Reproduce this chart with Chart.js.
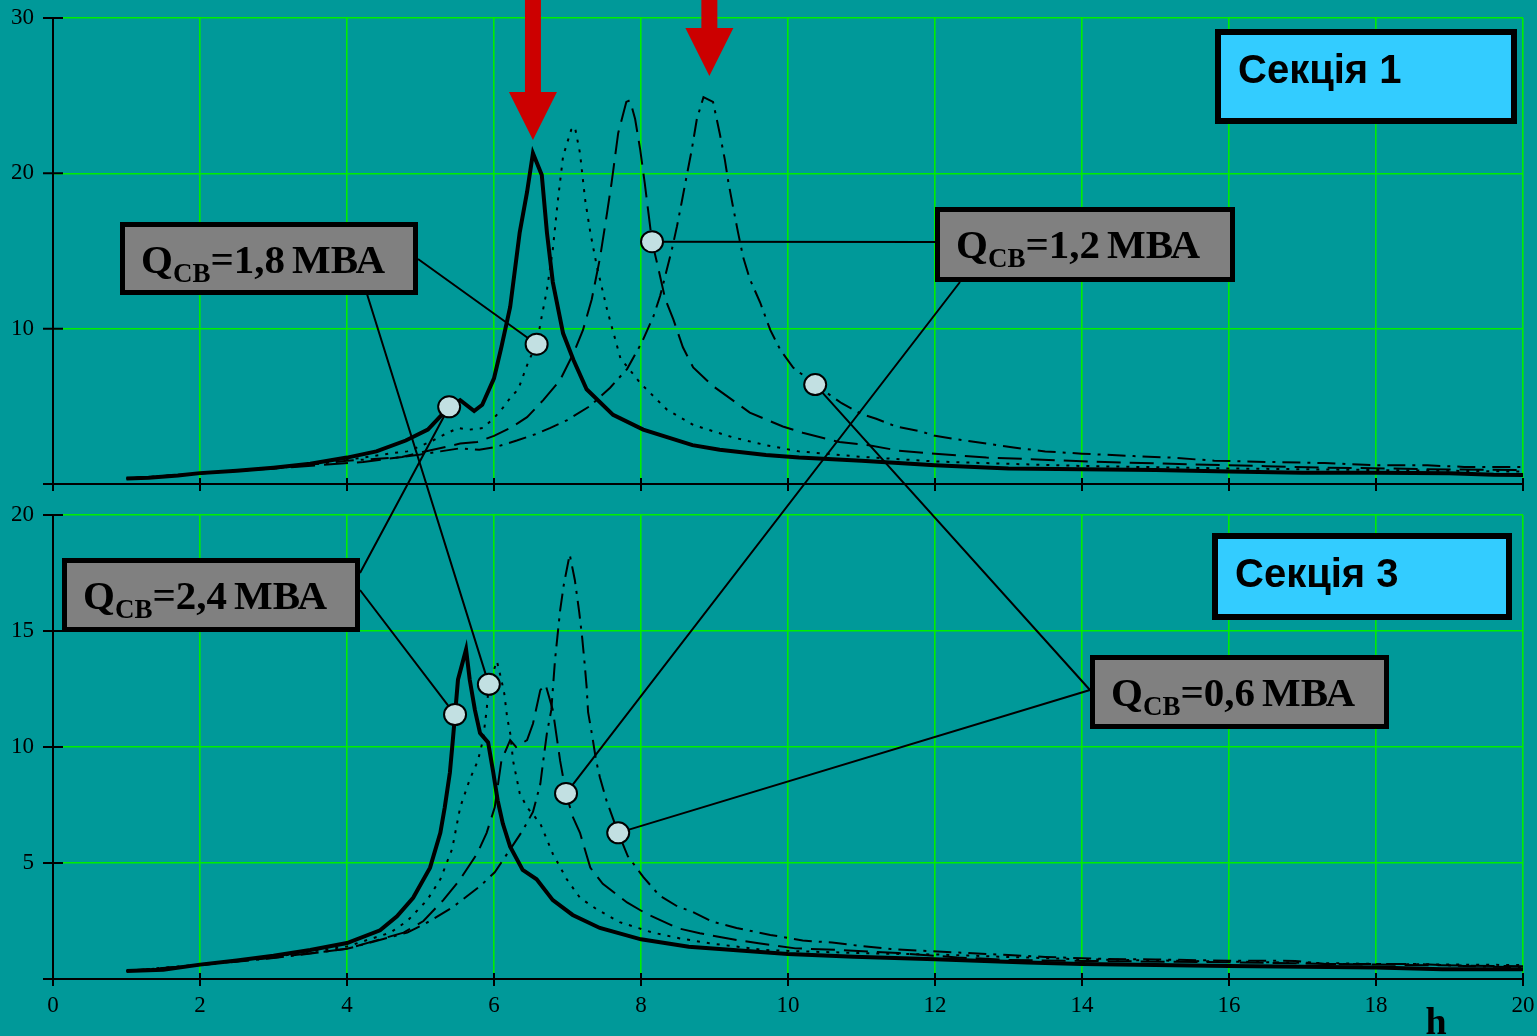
<!DOCTYPE html>
<html>
<head>
<meta charset="utf-8">
<script src="https://cdn.jsdelivr.net/npm/chart.js@4.4.1/dist/chart.umd.min.js"></script>
<style>
  body { margin: 0; background: #009999; width: 1537px; height: 1036px; overflow: hidden; position: relative; }
  canvas { position: absolute; left: 0; }
  #chart_top { top: 0; }
  #chart_bottom { top: 500px; }
  #overlay { top: 0; pointer-events: none; }
</style>
</head>
<body>
<canvas id="chart_top" width="1537" height="500"></canvas>
<canvas id="chart_bottom" width="1537" height="536"></canvas>
<canvas id="overlay" width="1537" height="1036"></canvas>
<script>
// harmonic number h vs. impedance, two sections, four capacitor ratings
const seriesNames = ["2,4", "1,8", "1,2", "0,6"];

// Секція 1 — [h, value]
const top24 = [[1,0.35],[1.3,0.4],[1.7,0.55],[2,0.7],[2.5,0.85],[3,1.05],[3.5,1.3],[4,1.7],[4.4,2.1],[4.8,2.8],[5.1,3.5],[5.38,4.9],[5.54,5.4],[5.73,4.7],[5.84,5.1],[6,6.8],[6.1,8.8],[6.22,11.4],[6.35,16.2],[6.45,18.8],[6.53,21.3],[6.65,19.9],[6.72,16.2],[6.8,13],[6.94,9.7],[7.08,8],[7.26,6.1],[7.62,4.45],[8.03,3.5],[8.7,2.5],[9.07,2.2],[9.7,1.87],[10.15,1.7],[11,1.5],[12,1.2],[13,1],[14,0.95],[15,0.9],[16,0.8],[17,0.72],[18,0.72],[19,0.7],[19.6,0.6],[20,0.58]];
const top18 = [[1,0.35],[2,0.68],[3,1],[3.5,1.25],[4,1.55],[4.63,2],[4.82,2.1],[5.03,2.5],[5.17,2.8],[5.33,3.2],[5.51,3.6],[5.67,3.5],[5.85,3.6],[6.01,4.3],[6.12,4.9],[6.23,5.6],[6.33,6.1],[6.47,7.9],[6.58,9],[6.65,10.8],[6.72,12.5],[6.8,15.1],[6.87,18.3],[6.94,21.1],[7.05,22.8],[7.1,23],[7.17,21.3],[7.24,18.3],[7.31,16.2],[7.4,14],[7.54,11.2],[7.72,8.1],[7.99,6.5],[8.35,4.8],[8.71,3.8],[9.25,3],[9.7,2.5],[10.15,2.1],[11,1.75],[12,1.45],[13,1.3],[14,1.16],[15,1.08],[16,1],[17,0.95],[18,0.9],[19,0.85],[20,0.8]];
const top12 = [[1,0.35],[2,0.68],[3,1],[4.22,1.42],[4.75,1.74],[5.03,2.06],[5.54,2.6],[5.77,2.7],[6,3.1],[6.22,3.6],[6.45,4.3],[6.67,5.4],[6.9,6.7],[7.08,8.4],[7.21,9.9],[7.33,11.9],[7.44,14.5],[7.53,17.2],[7.6,19.4],[7.69,22.6],[7.8,24.6],[7.85,24.7],[7.92,23.5],[7.99,21.5],[8.05,19.4],[8.1,17.5],[8.15,15.6],[8.23,14],[8.33,11.9],[8.44,10.6],[8.57,8.8],[8.71,7.5],[8.98,6.3],[9.48,4.6],[9.93,3.7],[10.2,3.3],[10.7,2.7],[11.1,2.5],[11.5,2.15],[12,1.95],[12.7,1.7],[13.3,1.6],[14,1.46],[15,1.33],[15.7,1.24],[16.5,1.15],[17.3,1.05],[18.2,1],[19,0.93],[20,0.9]];
const top06 = [[1,0.35],[2,0.68],[3,1],[4,1.5],[4.68,1.7],[5,1.9],[5.27,2.1],[5.54,2.3],[5.8,2.2],[6.04,2.4],[6.31,2.8],[6.56,3.2],[6.76,3.6],[6.99,4.1],[7.3,5],[7.58,6.2],[7.81,7.4],[8.01,9.1],[8.17,10.8],[8.26,12.1],[8.33,13.4],[8.42,15.1],[8.49,16.6],[8.56,18.3],[8.62,19.8],[8.69,21.5],[8.76,23.5],[8.85,24.9],[8.98,24.6],[9.07,22.6],[9.14,20.9],[9.19,19.4],[9.25,17.9],[9.32,16.2],[9.39,14.6],[9.48,13.2],[9.62,11.7],[9.76,9.9],[9.9,8.6],[10.07,7.5],[10.37,6.4],[10.73,5.2],[11,4.5],[11.2,4.2],[11.47,3.7],[11.8,3.4],[12,3.1],[12.27,2.9],[12.7,2.6],[13.07,2.35],[13.5,2.1],[14,1.95],[14.7,1.8],[15.2,1.7],[15.8,1.5],[16.5,1.42],[17.3,1.35],[18,1.2],[18.7,1.2],[19.2,1.1],[20,1.1]];

// Секція 3 — [h, value]
const bot24 = [[1,0.35],[1.5,0.4],[2,0.62],[2.5,0.8],[3,1],[3.5,1.25],[4,1.55],[4.45,2.1],[4.68,2.7],[4.9,3.5],[5.13,4.8],[5.27,6.3],[5.33,7.4],[5.4,8.9],[5.44,10.3],[5.47,11.4],[5.51,12.9],[5.62,14.2],[5.67,12.9],[5.74,11.6],[5.81,10.6],[5.92,10.2],[5.99,8.9],[6.05,7.7],[6.12,6.7],[6.22,5.7],[6.39,4.7],[6.58,4.3],[6.8,3.4],[7.07,2.76],[7.44,2.2],[8,1.71],[8.65,1.39],[10,1.08],[10.9,0.96],[12,0.85],[13.25,0.71],[14,0.65],[16,0.56],[18,0.5],[18.9,0.42],[20,0.42]];
const bot18 = [[1,0.35],[2,0.62],[3,0.95],[4,1.4],[4.59,2],[4.82,2.5],[5.09,3.4],[5.27,4.3],[5.43,5.6],[5.54,7.4],[5.67,8.6],[5.78,9.4],[5.85,10.3],[5.9,11.6],[5.93,12.7],[6.04,13.7],[6.1,12.9],[6.14,12.3],[6.18,11.25],[6.22,10.6],[6.26,9.4],[6.35,8],[6.45,7.4],[6.63,6.7],[6.8,5.4],[6.99,4.3],[7.17,3.5],[7.4,3],[7.71,2.45],[8.16,2],[8.53,1.75],[8.93,1.54],[9.68,1.25],[10.3,1.18],[11.2,1.1],[12.1,1.05],[13,0.95],[14,0.85],[16,0.75],[18,0.65],[20,0.6]];
const bot12 = [[1,0.35],[2,0.6],[3,0.92],[4,1.3],[4.77,2],[5.04,2.5],[5.31,3.4],[5.54,4.3],[5.77,5.4],[5.9,6.3],[6.01,7.4],[6.1,9.4],[6.22,10.3],[6.3,10],[6.45,10.3],[6.53,11],[6.63,12.45],[6.7,12.7],[6.8,11.6],[6.9,9.4],[6.98,8],[7.07,7],[7.17,6.3],[7.31,4.8],[7.48,4.1],[7.81,3.3],[8.08,2.8],[8.5,2.19],[8.8,1.97],[9.3,1.68],[9.6,1.54],[10.1,1.32],[10.7,1.25],[11.5,1.12],[12.3,0.93],[13,0.82],[14,0.78],[16,0.72],[18,0.62],[20,0.55]];
const bot06 = [[1,0.35],[2,0.6],[3,0.9],[4,1.3],[4.82,2],[5.13,2.5],[5.44,3.1],[5.81,4],[6.01,4.6],[6.18,5.4],[6.39,6.4],[6.53,7.2],[6.63,8.4],[6.67,9.4],[6.72,10.6],[6.78,11.6],[6.83,13.75],[6.9,15.9],[6.95,17],[7.03,18.3],[7.1,17.2],[7.16,15.8],[7.2,14.7],[7.23,13.7],[7.26,12.6],[7.28,11.5],[7.33,10.6],[7.39,9.4],[7.44,8.7],[7.53,7.7],[7.69,6.3],[7.82,5.3],[8.03,4.4],[8.25,3.6],[8.5,3.12],[8.7,2.9],[8.97,2.47],[9.3,2.2],[9.76,1.9],[10.2,1.66],[10.6,1.57],[11,1.42],[11.4,1.29],[11.8,1.22],[12.4,1.13],[13,1.03],[13.5,0.95],[14.2,0.87],[15,0.84],[16,0.79],[16.9,0.78],[17.3,0.65],[18.5,0.65],[19.2,0.56],[20,0.5]];

// callout points on the curves, in series order
const topMarks = [[5.39,4.97],[6.58,9.0],[8.15,15.6],[10.37,6.4]];
const botMarks = [[5.47,11.4],[5.93,12.7],[6.98,8.0],[7.69,6.3]];
// red arrows point at these h values in Секція 1
const arrowH = [6.53, 8.93];

const xTicks = [0, 2, 4, 6, 8, 10, 12, 14, 16, 18, 20];

const lineStyles = [
  { width: 4, dash: [] },
  { width: 2, dash: [3, 7] },
  { width: 2, dash: [24, 9] },
  { width: 2, dash: [18, 7, 3, 7] },
];

const serif = "'Liberation Serif', 'Times New Roman', serif";
const sans = "'Liberation Sans', Arial, sans-serif";
const gridGreen = "#00ee00";

function toPoints(arr) {
  return arr.map(function (p) {
    return { x: p[0], y: p[1] };
  });
}

// tick marks crossing the axis lines
const crossTicks = {
  id: "crossTicks",
  afterDraw: function (chart) {
    const ctx = chart.ctx;
    const a = chart.chartArea;
    const xs = chart.scales.x;
    const ys = chart.scales.y;
    ctx.save();
    ctx.strokeStyle = "#000";
    ctx.lineWidth = 2;
    ctx.beginPath();
    xs.ticks.forEach(function (t) {
      const px = xs.getPixelForValue(t.value);
      ctx.moveTo(px, a.bottom - 6);
      ctx.lineTo(px, a.bottom + 7);
    });
    ys.ticks.forEach(function (t) {
      const py = ys.getPixelForValue(t.value);
      ctx.moveTo(a.left - 10, py);
      ctx.lineTo(a.left + 10, py);
    });
    ctx.stroke();
    ctx.restore();
  },
};

function noPadding(scale) {
  scale.paddingTop = 0;
  scale.paddingBottom = 0;
  scale.paddingLeft = 0;
  scale.paddingRight = 0;
}

function makeChart(id, series, yMax, yStep, showX, padTop, xHeight) {
  return new Chart(document.getElementById(id), {
    type: "line",
    data: {
      datasets: series.map(function (s, i) {
        return {
          label: "QСВ=" + seriesNames[i] + " МВА",
          data: toPoints(s),
          borderColor: "#000",
          borderWidth: lineStyles[i].width,
          borderDash: lineStyles[i].dash,
          pointRadius: 0,
          fill: false,
          tension: 0,
        };
      }),
    },
    options: {
      responsive: false,
      animation: false,
      layout: { padding: { left: 0, right: 14, top: padTop, bottom: 0 } },
      plugins: { legend: { display: false }, tooltip: { enabled: false } },
      scales: {
        x: {
          type: "linear",
          min: 0,
          max: 20,
          afterBuildTicks: function (scale) {
            scale.ticks = xTicks.map(function (v) { return { value: v }; });
          },
          afterFit: function (scale) {
            scale.height = xHeight;
            noPadding(scale);
          },
          ticks: {
            display: showX,
            autoSkip: false,
            maxRotation: 0,
            padding: 13,
            color: "#000",
            font: { family: serif, size: 23 },
          },
          grid: { color: gridGreen, lineWidth: 1.6, drawTicks: false },
          border: { color: "#000", width: 2 },
        },
        y: {
          min: 0,
          max: yMax,
          afterFit: function (scale) {
            scale.width = 53;
            noPadding(scale);
          },
          ticks: {
            stepSize: yStep,
            padding: 19,
            color: "#000",
            font: { family: serif, size: 23 },
            callback: function (v) { return v === 0 ? "" : v; },
          },
          grid: { color: gridGreen, lineWidth: 1.6, drawTicks: false },
          border: { color: "#000", width: 2 },
        },
      },
    },
    plugins: [crossTicks],
  });
}

const chartTop = makeChart("chart_top", [top24, top18, top12, top06], 30, 10, false, 18, 16);
const chartBot = makeChart("chart_bottom", [bot24, bot18, bot12, bot06], 20, 5, true, 15, 57);

function pixTop(p) {
  return [chartTop.scales.x.getPixelForValue(p[0]), chartTop.scales.y.getPixelForValue(p[1])];
}
function pixBot(p) {
  return [chartBot.scales.x.getPixelForValue(p[0]), 500 + chartBot.scales.y.getPixelForValue(p[1])];
}

// boxes with the ratings and where their leader lines start
const callouts = [
  { i: 0, box: [62, 558, 298, 74], fromTop: [360, 573], fromBot: [360, 590] },
  { i: 1, box: [120, 222, 298, 73], fromTop: [418, 259], fromBot: [367, 294] },
  { i: 2, box: [935, 207, 300, 75], fromTop: [935, 242], fromBot: [960, 282] },
  { i: 3, box: [1090, 655, 299, 74], fromTop: [1090, 690], fromBot: [1090, 690] },
];

function drawBox(ctx, b, border, fill) {
  ctx.fillStyle = "#000";
  ctx.fillRect(b[0], b[1], b[2], b[3]);
  ctx.fillStyle = fill;
  ctx.fillRect(b[0] + border, b[1] + border, b[2] - 2 * border, b[3] - 2 * border);
}

function drawOverlay() {
  const ctx = document.getElementById("overlay").getContext("2d");

  // leader lines
  ctx.strokeStyle = "#000";
  ctx.lineWidth = 2;
  callouts.forEach(function (c) {
    const t = pixTop(topMarks[c.i]);
    const b = pixBot(botMarks[c.i]);
    ctx.beginPath();
    ctx.moveTo(c.fromTop[0], c.fromTop[1]);
    ctx.lineTo(t[0], t[1]);
    ctx.moveTo(c.fromBot[0], c.fromBot[1]);
    ctx.lineTo(b[0], b[1]);
    ctx.stroke();
  });

  // circles
  topMarks.map(pixTop).concat(botMarks.map(pixBot)).forEach(function (p) {
    ctx.beginPath();
    ctx.ellipse(p[0], p[1], 11, 10.5, 0, 0, Math.PI * 2);
    ctx.fillStyle = "#c2e0e2";
    ctx.fill();
    ctx.lineWidth = 2;
    ctx.stroke();
  });

  // rating boxes
  callouts.forEach(function (c) {
    const b = c.box;
    drawBox(ctx, b, 5, "#808080");
    let x = b[0] + 21;
    const y = b[1] + 51;
    ctx.fillStyle = "#000";
    ctx.textBaseline = "alphabetic";
    ctx.font = "bold 41px " + serif;
    ctx.fillText("Q", x, y);
    x += ctx.measureText("Q").width;
    ctx.font = "bold 27px " + serif;
    ctx.fillText("СВ", x, y + 9);
    x += ctx.measureText("СВ").width;
    ctx.font = "bold 41px " + serif;
    ctx.fillText("=" + seriesNames[c.i], x, y);
    x += ctx.measureText("=" + seriesNames[c.i]).width + 7;
    ctx.fillText("МВА", x, y);
  });

  // section boxes
  [[1215, 29, 302, 95, "Секція 1"], [1212, 533, 300, 87, "Секція 3"]].forEach(function (s) {
    drawBox(ctx, s, 6, "#33ccff");
    ctx.fillStyle = "#000";
    ctx.font = "bold 40px " + sans;
    ctx.fillText(s[4], s[0] + 23, s[1] + 54);
  });

  // red arrows
  ctx.fillStyle = "#cc0000";
  [[arrowH[0], 140], [arrowH[1], 76]].forEach(function (a) {
    const x = chartTop.scales.x.getPixelForValue(a[0]);
    const tip = a[1];
    ctx.fillRect(x - 8, 0, 16, tip - 47);
    ctx.beginPath();
    ctx.moveTo(x - 24, tip - 48);
    ctx.lineTo(x + 24, tip - 48);
    ctx.lineTo(x, tip);
    ctx.closePath();
    ctx.fill();
  });

  // axis name
  ctx.fillStyle = "#000";
  ctx.font = "bold 38px " + serif;
  ctx.textAlign = "center";
  ctx.fillText("h", 1436, 1034);
}

drawOverlay();
</script>
</body>
</html>
